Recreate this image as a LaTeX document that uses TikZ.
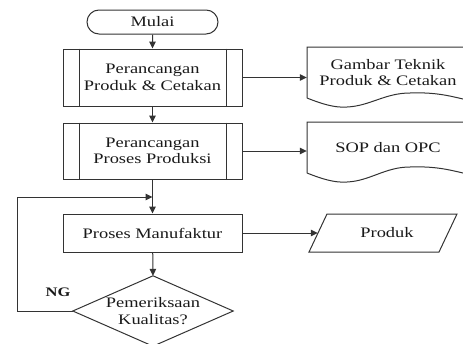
\documentclass[tikz,border=0pt]{standalone}
\usepackage{fontspec}
\setmainfont{Liberation Serif}[FakeStretch=1.27]
\usetikzlibrary{arrows.meta,calc,shapes.misc}
\begin{document}
\begin{tikzpicture}[x=1pt,y=-1pt,
  every node/.style={font=\fontsize{14.5}{16.5}\selectfont, text=black!90, inner sep=0pt},
  ln/.style={draw=black!80, line width=1pt},
  arr/.style={ln, -{Triangle[length=7pt,width=6.5pt]}},
  term/.style={ln, rounded rectangle, minimum width=131pt, minimum height=24pt},
  procbox/.style={ln, rectangle, minimum width=179pt, align=center},
  plain/.style={align=center}]
\useasboundingbox (0,0) rectangle (463,343);
\clip (0,0) rectangle (463,343);

% main column
\node[term] (mulai) at (152.5,22) {Mulai};
\node[procbox, minimum height=57pt] (p1) at (152.5,77.5) {Perancangan\\Produk \& Cetakan};
\node[procbox, minimum height=56pt] (p2) at (152.5,151) {Perancangan\\Proses Produksi};
\node[procbox, minimum height=38pt] (pm) at (152.5,233) {Proses Manufaktur};
\node[plain, minimum width=160pt, minimum height=70pt] (dq) at (153,311) {Pemeriksaan\\Kualitas?};
\draw[ln] (dq.north) -- (dq.east) -- (dq.south) -- (dq.west) -- cycle;

% predefined-process inner lines
\foreach \b in {p1,p2}{
  \draw[ln] ($(\b.north west)+(17,0)$) -- ($(\b.south west)+(17,0)$);
  \draw[ln] ($(\b.north east)+(-16,0)$) -- ($(\b.south east)+(-16,0)$);
}

% documents
\node[plain, minimum width=162pt, minimum height=51pt] (doc1) at (388,72.5) {Gambar Teknik\\Produk \& Cetakan};
\draw[ln] (307,98) -- (307,47) -- (470,47) -- (470,99) -- (463,99)
  .. controls (450,96) and (435,92) .. (410,93)
  .. controls (385,93) and (370,106) .. (347,107)
  .. controls (335,108) and (322,104) .. (307,98);
\node[plain, minimum width=162pt, minimum height=51pt] (doc2) at (388,147.5) {SOP dan OPC};
\draw[ln] (307,173) -- (307,122) -- (470,122) -- (470,173) -- (463,173)
  .. controls (450,170) and (435,166) .. (410,167)
  .. controls (385,167) and (370,181) .. (347,182)
  .. controls (335,183) and (322,179) .. (307,173);

% output
\node[plain, minimum width=138pt, minimum height=38pt] (prod) at (387,233) {Produk};
\draw[ln] (309,252) -- (327,214) -- (457,214) -- (439,252) -- cycle;

% connectors
\draw[arr] (mulai) -- (p1);
\draw[arr] (p1) -- (p2);
\draw[arr] (p2) -- (pm);
\draw[arr] (pm) -- (dq.north);
\draw[arr] (p1.east) -- (p1.east -| doc1.west);
\draw[arr] (p2.east) -- (p2.east -| doc2.west);
\draw[arr] (pm.east) -- (prod.west);
\coordinate (join) at (152.5,197);
\draw[arr] (dq.west) -- (17,311) -- (17,197) -- (join);
\node[font=\fontsize{13}{15}\selectfont\bfseries] (ng) at (58,292) {NG};
\end{tikzpicture}
\end{document}
